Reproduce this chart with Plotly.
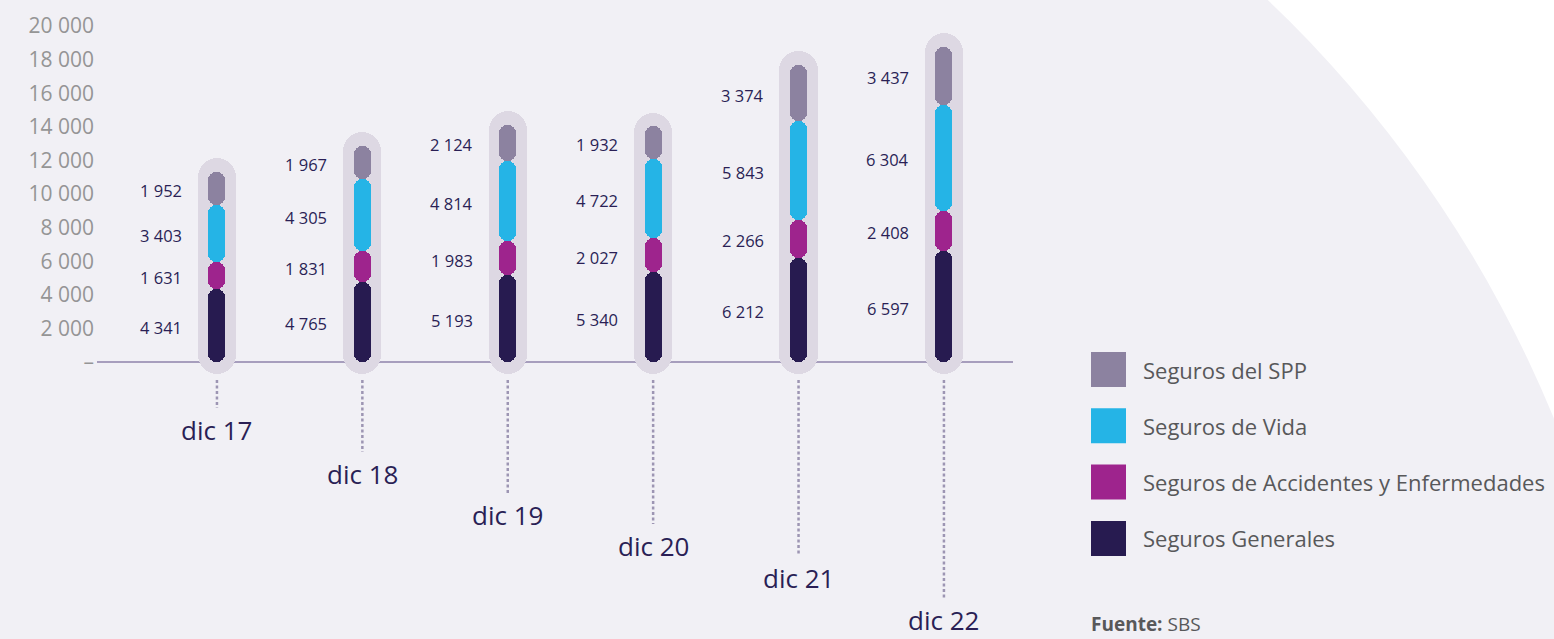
import plotly.graph_objects as go

# ---- data -------------------------------------------------------------
categories = ["dic 17", "dic 18", "dic 19", "dic 20", "dic 21", "dic 22"]
series_names = [
    "Seguros Generales",
    "Seguros de Accidentes y Enfermedades",
    "Seguros de Vida",
    "Seguros del SPP",
]
generales = [4341, 4765, 5193, 5340, 6212, 6597]
accidentes = [1631, 1831, 1983, 2027, 2266, 2408]
vida = [3403, 4305, 4814, 4722, 5843, 6304]
spp = [1952, 1967, 2124, 1932, 3374, 3437]
y_ticks = [0, 2000, 4000, 6000, 8000, 10000, 12000, 14000, 16000, 18000, 20000]

# ---- style ------------------------------------------------------------
series_values = [generales, accidentes, vida, spp]
series_colors = ["#271b50", "#9e248d", "#25b4e6", "#8c82a0"]
capsule_color = "#ddd8e3"
bg_gray = "#f1f0f5"
ink = "#2a1f55"
text_gray = "#58585a"
FONT = "Open Sans"

W, H = 1554, 639
ML, MR, MT, MB = 97, 541, 0, 0
PW, PH = W - ML - MR, H - MT - MB

X_RANGE = [-0.825, 5.475]
Y_RANGE = [-16488, 21548]

SEG_W = 0.117      # colored pill width (x units)
CAP_W = 0.262      # background capsule width (x units)
CAP_BELOW = 700    # capsule extension under zero
CAP_ABOVE = 820    # capsule extension over the stack top

label_drop_px = [46, 90, 131, 162, 194, 236]   # dotted leader length under axis


def px2x(px):
    return (px - ML) / PW


def px2y(py):
    return (H - MB - py) / PH


def fmt(v):
    return f"{v:,}".replace(",", " ")


fig = go.Figure()
xs = list(range(len(categories)))
totals = [sum(s[i] for s in series_values) for i in xs]

# background capsules
fig.add_trace(go.Bar(
    x=xs, y=[t + CAP_ABOVE + CAP_BELOW for t in totals],
    base=[-CAP_BELOW] * len(xs), width=CAP_W,
    marker=dict(color=capsule_color, line=dict(width=0), cornerradius=19),
    showlegend=False, hoverinfo="skip",
))

# stacked pill segments (one bar per segment, placed with an explicit base)
annotations = []
cum = [0] * len(xs)
for name, vals, col in zip(series_names, series_values, series_colors):
    fig.add_trace(go.Bar(
        x=xs, y=vals, base=cum, width=SEG_W,
        marker=dict(color=col, line=dict(width=0), cornerradius=8),
        name=name, showlegend=False,
        hovertemplate=name + ": %{y}<extra></extra>",
    ))
    for i, (c, v) in enumerate(zip(cum, vals)):
        annotations.append(dict(
            x=i, y=c + v / 2, xref="x", yref="y", text=fmt(v), showarrow=False,
            xanchor="right", yanchor="middle", xshift=-33, yshift=-2,
            font=dict(family=FONT, size=16.5, color=ink),
        ))
    cum = [c + v for c, v in zip(cum, vals)]

# dotted leaders and category labels
shapes = []
for i, (cat, drop) in enumerate(zip(categories, label_drop_px)):
    shapes.append(dict(
        type="line", xref="x", yref="y", ysizemode="pixel", yanchor=0,
        x0=i, x1=i, y0=-18, y1=-drop,
        line=dict(color="#9d95b3", width=2.5, dash="3px,2.5px"),
    ))
    annotations.append(dict(
        x=i, y=0, xref="x", yref="y", text=cat, showarrow=False,
        xanchor="center", yanchor="top", yshift=-(drop + 2),
        font=dict(family=FONT, size=26, color=ink),
    ))

# large pale disc behind the chart
cx, cy, R = 430, 880, 1215
shapes.insert(0, dict(
    type="circle", xref="paper", yref="paper", layer="below",
    x0=px2x(cx - R), x1=px2x(cx + R), y0=px2y(cy + R), y1=px2y(cy - R),
    fillcolor=bg_gray, line=dict(width=0),
))

# custom legend (top to bottom)
legend_rows = list(zip(series_names, series_colors))[::-1]
for k, (name, col) in enumerate(legend_rows):
    top = 352 + k * 56.3
    shapes.append(dict(
        type="rect", xref="paper", yref="paper",
        x0=px2x(1091), x1=px2x(1126), y0=px2y(top + 35), y1=px2y(top),
        fillcolor=col, line=dict(width=0),
    ))
    annotations.append(dict(
        x=px2x(1141), y=px2y(top + 17.5), xref="paper", yref="paper",
        text=name, showarrow=False, xanchor="left", yanchor="middle",
        font=dict(family=FONT, size=22, color=text_gray),
    ))

annotations.append(dict(
    x=px2x(1089), y=px2y(624), xref="paper", yref="paper",
    text="<b>Fuente:</b> SBS", showarrow=False, xanchor="left", yanchor="middle",
    font=dict(family=FONT, size=19, color=text_gray),
))

fig.update_layout(
    width=W, height=H,
    margin=dict(l=ML, r=MR, t=MT, b=MB, pad=0),
    paper_bgcolor="white", plot_bgcolor="rgba(0,0,0,0)",
    barmode="overlay", bargap=0,
    showlegend=False,
    shapes=shapes, annotations=annotations,
    xaxis=dict(range=X_RANGE, visible=False, fixedrange=True),
    yaxis=dict(
        range=Y_RANGE, showgrid=False, zeroline=True, zerolinecolor="#a79ebd",
        zerolinewidth=1.5, showline=False, ticks="",
        tickvals=y_ticks,
        ticktext=["\u2013"] + [fmt(v) for v in y_ticks[1:]],
        tickfont=dict(family=FONT, size=21, color="#959595"),
        ticklabelstandoff=2,
        fixedrange=True,
    ),
)

fig.write_html("out.html")
